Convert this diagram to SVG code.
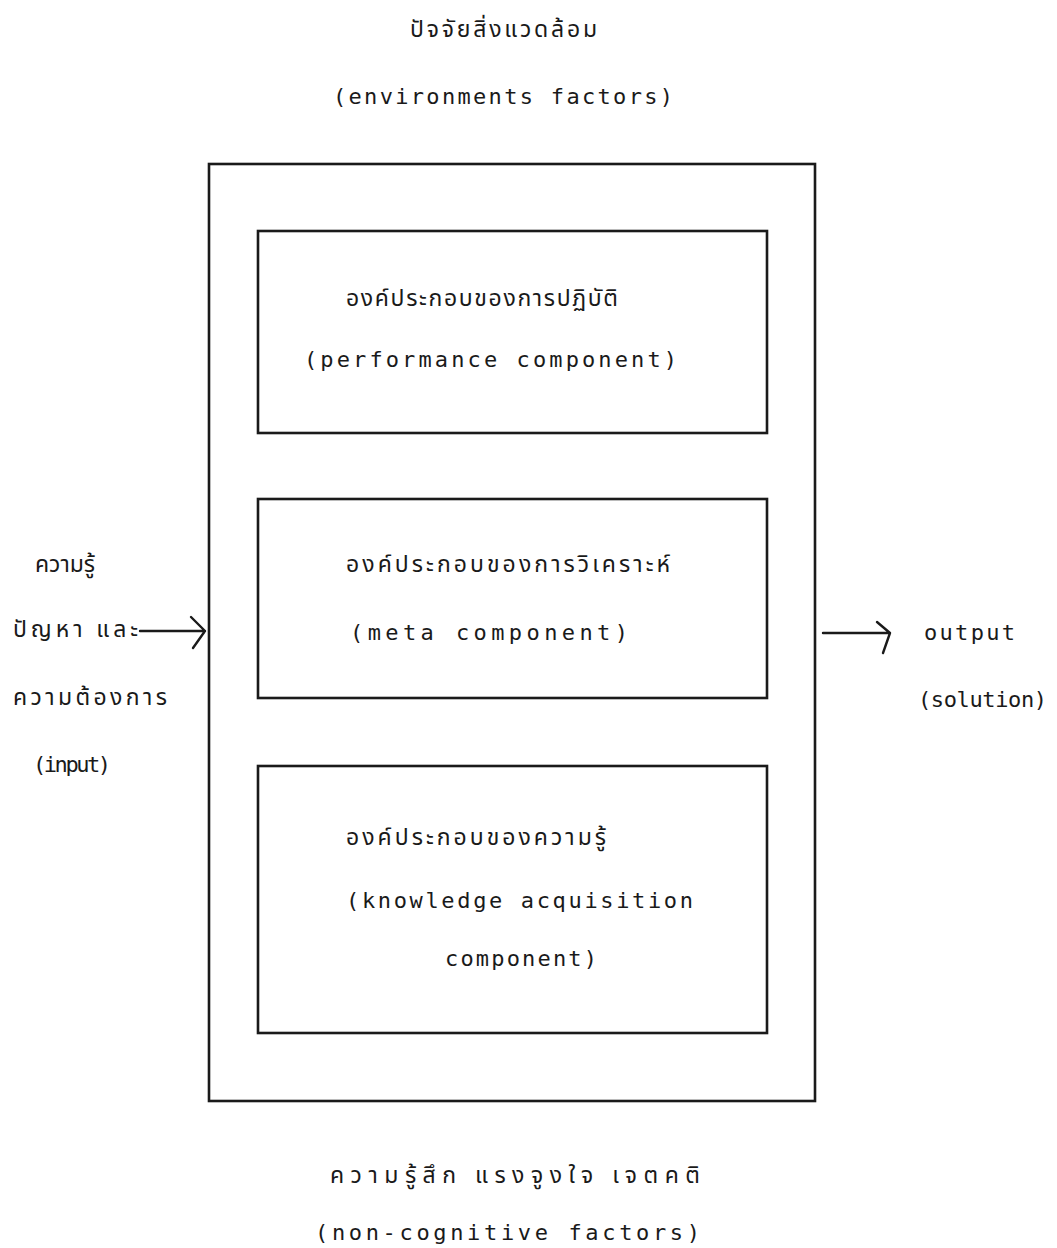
<svg xmlns="http://www.w3.org/2000/svg" width="1057" height="1248" viewBox="0 0 1057 1248">
<style>
.box{fill:none;stroke:#1a1a1a;stroke-width:2.6}
.ln{fill:none;stroke:#1a1a1a;stroke-width:2.4;stroke-linecap:round;stroke-linejoin:round}
.la{font-family:"DejaVu Sans Mono","Liberation Mono",monospace;font-size:22px;fill:#1a1a1a}
.th{font-family:"Noto Sans Thai","Noto Sans","DejaVu Sans",sans-serif;font-size:23px;fill:#1a1a1a}
</style>
<rect width="1057" height="1248" fill="#ffffff"/>
<g id="env-label">
<text class="th" x="410" y="37" textLength="187" lengthAdjust="spacing">ปัจจัยสิ่งแวดล้อม</text>
<text class="la" x="333" y="104" textLength="340" lengthAdjust="spacing">(environments factors)</text>
</g>
<g id="outer-box"><rect class="box" x="209" y="164" width="606" height="937"/></g>
<g id="performance">
<rect class="box" x="258" y="231" width="509" height="202"/>
<text class="th" x="346" y="306" textLength="272" lengthAdjust="spacing">องค์ประกอบของการปฏิบัติ</text>
<text class="la" x="304" y="367" textLength="373" lengthAdjust="spacing">(performance component)</text>
</g>
<g id="meta">
<rect class="box" x="258" y="499" width="509" height="199"/>
<text class="th" x="346" y="572" textLength="324" lengthAdjust="spacing">องค์ประกอบของการวิเคราะห์</text>
<text class="la" x="350" y="640" textLength="278" lengthAdjust="spacing">(meta component)</text>
</g>
<g id="knowledge">
<rect class="box" x="258" y="766" width="509" height="267"/>
<text class="th" x="346" y="845" textLength="260" lengthAdjust="spacing">องค์ประกอบของความรู้</text>
<text class="la" x="346" y="908" textLength="347" lengthAdjust="spacing">(knowledge acquisition</text>
<text class="la" x="445" y="966" textLength="152" lengthAdjust="spacing">component)</text>
</g>
<g id="input">
<text class="th" x="35" y="572" textLength="60" lengthAdjust="spacing">ความรู้</text>
<text class="th" x="13" y="637" textLength="125" lengthAdjust="spacing">ปัญหา และ</text>
<text class="th" x="13" y="705" textLength="154" lengthAdjust="spacing">ความต้องการ</text>
<text class="la" x="33" y="772" textLength="78" lengthAdjust="spacing">(input)</text>
</g>
<g id="output">
<text class="la" x="924" y="640" textLength="91" lengthAdjust="spacing">output</text>
<text class="la" x="918" y="707" textLength="129" lengthAdjust="spacing">(solution)</text>
</g>
<g id="noncog-label">
<text class="th" x="330" y="1183" textLength="370" lengthAdjust="spacing">ความรู้สึก  แรงจูงใจ เจตคติ</text>
<text class="la" x="315" y="1240" textLength="385" lengthAdjust="spacing">(non-cognitive  factors)</text>
</g>
<g id="connectors">
<path class="ln" d="M140 631 H205 M191 617 L205 631 L193 648"/>
<path class="ln" d="M823 633 H890 M877 622 L890 633 L883 653"/>
</g>
</svg>
